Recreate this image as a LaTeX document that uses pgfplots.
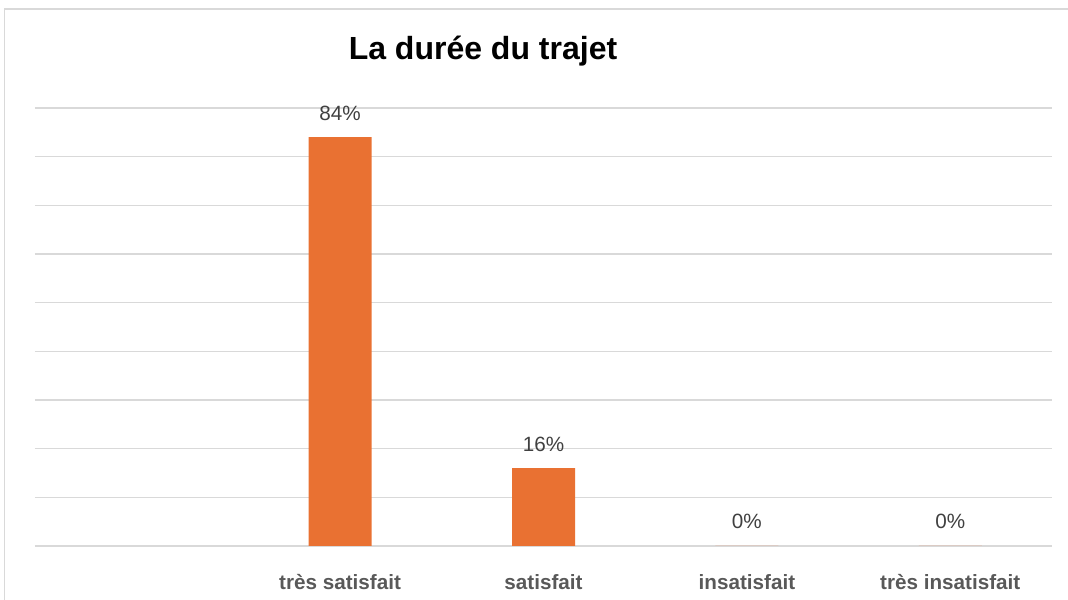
\documentclass[border=0pt]{standalone}
\usepackage{fontspec}
\setmainfont{Liberation Sans}
\usepackage{pgfplots}
\pgfplotsset{compat=1.18}
\definecolor{barorange}{HTML}{E97132}
\definecolor{gridgray}{HTML}{D9D9D9}
\definecolor{labgray}{HTML}{404040}
\definecolor{catgray}{HTML}{595959}
\begin{document}
\begin{tikzpicture}
\useasboundingbox (0,0) rectangle (801pt,450pt);
\draw[gridgray, line width=0.9pt] (3.4pt,-2pt) -- (3.4pt,443.25pt) -- (803pt,443.25pt);
\node[anchor=base, font=\fontsize{24}{28}\selectfont\bfseries, text=black, inner sep=0pt] at (362.25pt,405pt) {La durée du trajet};
\begin{axis}[
  at={(26.25pt,40.5pt)}, anchor=south west,
  scale only axis, width=762.75pt, height=328.5pt,
  xmin=-0.5, xmax=4.5, ymin=0, ymax=90,
  /pgf/number format/assume math mode=true,
  ytick={0,10,...,90}, yticklabels={},
  xtick={1,2,3,4},
  xticklabels={très satisfait, satisfait, insatisfait, très insatisfait},
  xticklabel style={font=\fontsize{15.5}{18}\selectfont\bfseries, text=catgray, anchor=base, yshift=-28.5pt, inner sep=0pt},
  ymajorgrids, major grid style={color=gridgray, line width=1pt},
  axis line style={draw=none}, tick style={draw=none},
  clip=false,
  ybar, bar width=47.25pt,
  nodes near coords={\pgfmathprintnumber[assume math mode=true]{\pgfplotspointmeta}\%},
  every node near coord/.append style={font=\fontsize{15.5}{18}\selectfont, text=labgray, anchor=base, yshift=12.75pt, inner sep=0pt},
]
\addplot[fill=barorange, draw=none] coordinates {(1,84) (2,16) (3,0) (4,0)};
\end{axis}
\end{tikzpicture}
\end{document}
